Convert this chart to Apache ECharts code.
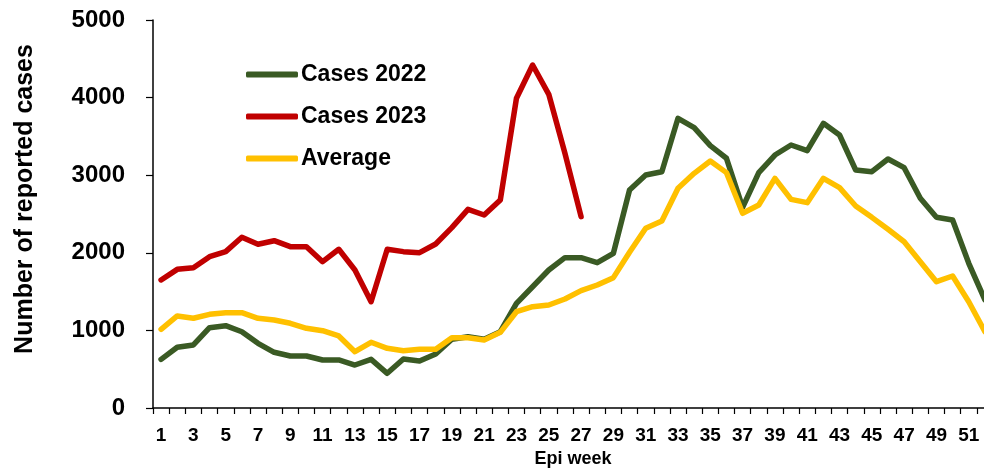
<!DOCTYPE html>
<html>
<head>
<meta charset="utf-8">
<script src="https://cdn.jsdelivr.net/npm/echarts@6/dist/echarts.min.js"></script>
<style>
  html, body { margin: 0; padding: 0; background: #fff; overflow: hidden; }
  #chart { width: 993px; height: 471px; }
</style>
</head>
<body>
<div id="chart"></div>
<script>
const weeks = Array.from({length: 52}, (_, i) => String(i + 1));

const cases2022 = [627, 782, 812, 1035, 1061, 983, 834, 718, 670, 670,
  619, 619, 554, 627, 447, 631, 606, 696, 885, 919,
  885, 983, 1349, 1563, 1778, 1937, 1937, 1873, 1994, 2809,
  3003, 3045, 3733, 3613, 3381, 3218, 2586, 3033, 3260, 3389,
  3316, 3669, 3518, 3067, 3045, 3209, 3097, 2702, 2457, 2423,
  1865, 1392];

const cases2023 = [1650, 1787, 1808, 1950, 2015, 2200, 2110, 2156, 2079, 2079,
  1886, 2045, 1778, 1370, 2045, 2015, 2002, 2113, 2324, 2560,
  2487, 2680, 3991, 4420, 4042, 3282, 2466];

const average = [1014, 1186, 1156, 1207, 1228, 1228, 1156, 1134, 1092, 1027,
  996, 928, 726, 847, 769, 739, 756, 756, 906, 906,
  876, 975, 1241, 1306, 1327, 1405, 1512, 1585, 1680, 2006,
  2316, 2410, 2831, 3024, 3183, 3033, 2509, 2616, 2960, 2689,
  2646, 2960, 2839, 2603, 2457, 2303, 2143, 1886, 1628, 1701,
  1370, 983];

const seriesNames = ['Cases 2022', 'Cases 2023', 'Average'];
const colors = ['#3a5a24', '#c00000', '#ffc000'];

const chart = echarts.init(document.getElementById('chart'), null, {renderer: 'canvas'});

function lineSeries(name, data, color) {
  return {
    name: name,
    type: 'line',
    data: data,
    symbol: 'none',
    smooth: false,
    lineStyle: { color: color, width: 5.5, cap: 'round', join: 'round' },
    itemStyle: { color: color },
    emphasis: { disabled: true }
  };
}

chart.setOption({
  animation: false,
  backgroundColor: '#fff',
  grid: { left: 153, top: 20, right: 0, height: 388, containLabel: false, outerBoundsMode: 'none' },
  legend: {
    orient: 'vertical',
    left: 241,
    top: 58,
    itemWidth: 52,
    itemHeight: 6,
    itemGap: 19,
    icon: 'roundRect',
    data: seriesNames,
    textStyle: { fontFamily: 'Liberation Sans', fontWeight: 'bold', fontSize: 23, color: '#000', padding: [0, 0, 0, -2] }
  },
  xAxis: {
    type: 'category',
    data: weeks,
    boundaryGap: true,
    name: 'Epi week',
    nameLocation: 'middle',
    nameGap: 42,
    nameTextStyle: { fontFamily: 'Liberation Sans', fontWeight: 'bold', fontSize: 18, color: '#000' },
    axisLine: { lineStyle: { color: '#000', width: 1.5 } },
    axisTick: { show: true, interval: 0, length: 6, lineStyle: { color: '#000', width: 1.2 } },
    axisLabel: {
      interval: 1,
      margin: 18,
      fontFamily: 'Liberation Sans',
      fontWeight: 'bold',
      fontSize: 19,
      color: '#000'
    },
    splitLine: { show: false }
  },
  yAxis: {
    type: 'value',
    min: 0,
    max: 5000,
    interval: 1000,
    name: 'Number of reported cases',
    nameLocation: 'middle',
    nameRotate: 90,
    nameGap: 115,
    nameTextStyle: { fontFamily: 'Liberation Sans', fontWeight: 'bold', fontSize: 25, color: '#000', padding: [0, 0, 0, 30] },
    axisLine: { show: true, lineStyle: { color: '#000', width: 1.5 } },
    axisTick: { show: true, length: 7, lineStyle: { color: '#000', width: 1.2 } },
    axisLabel: {
      margin: 28,
      formatter: function (v) { return String(v); },
      fontFamily: 'Liberation Sans',
      fontWeight: 'bold',
      fontSize: 24,
      color: '#000'
    },
    splitLine: { show: false }
  },
  series: [
    lineSeries(seriesNames[0], cases2022, colors[0]),
    lineSeries(seriesNames[1], cases2023, colors[1]),
    lineSeries(seriesNames[2], average, colors[2])
  ]
});
</script>
</body>
</html>
